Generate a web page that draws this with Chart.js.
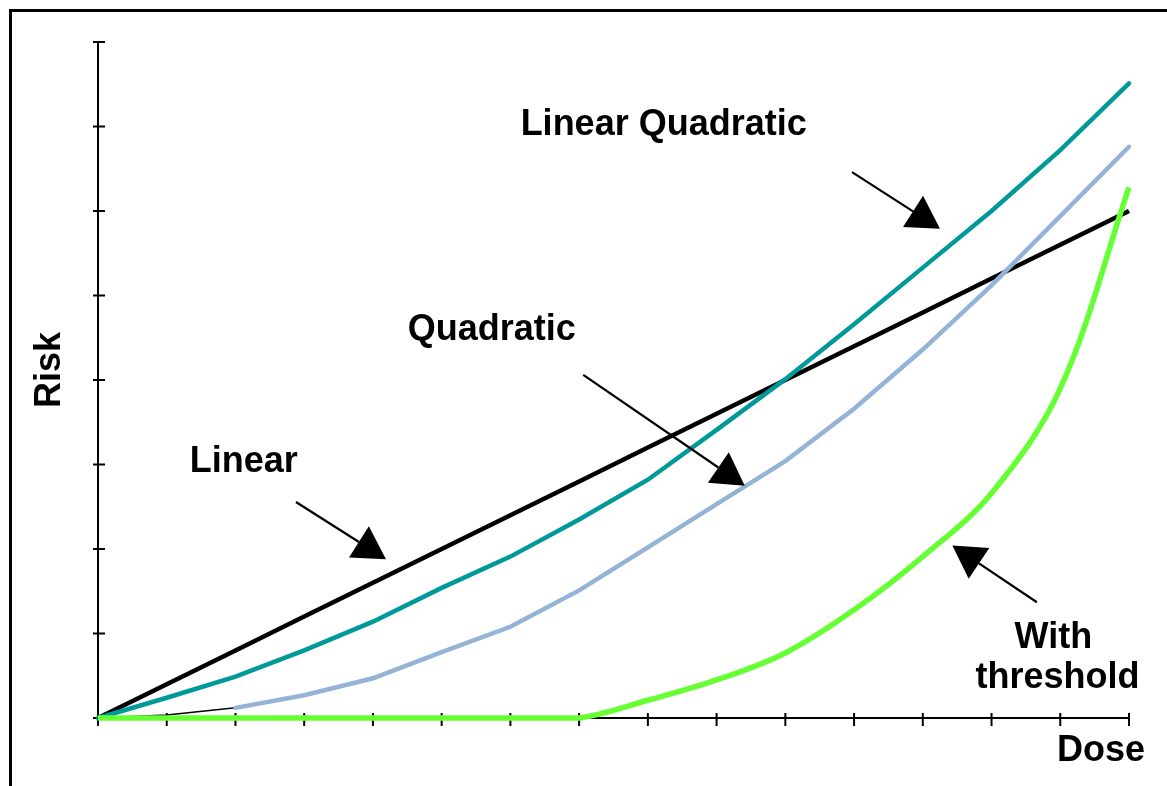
<!DOCTYPE html>
<html>
<head>
<meta charset="utf-8">
<script src="https://cdn.jsdelivr.net/npm/chart.js@4/dist/chart.umd.min.js"></script>
<style>
  html, body { margin: 0; padding: 0; background: #fff; overflow: hidden; }
  #wrap { position: relative; width: 1167px; height: 786px; }
  #frame { position: absolute; left: 9px; top: 9px; width: 1300px; height: 900px;
           border-left: 3px solid #000; border-top: 3px solid #000; }
  #chart { position: absolute; left: 0; top: 0; }
</style>
</head>
<body>
<div id="wrap">
  <div id="frame"></div>
  <canvas id="chart" width="1167" height="786"></canvas>
</div>
<script>
// dose steps along the x axis (16 tick marks)
const doses = [0, 1, 2, 3, 4, 5, 6, 7, 8, 9, 10, 11, 12, 13, 14, 15];
const yTicks = [0, 1, 2, 3, 4, 5, 6, 7, 8];

// risk values
const linear          = [0, 0.4, 0.8, 1.2, 1.6, 2.0, 2.4, 2.8, 3.2, 3.6, 4.0, 4.4, 4.8, 5.2, 5.6, 6.0];
const linearQuadratic = [0, 0.24, 0.49, 0.80, 1.14, 1.54, 1.91, 2.35, 2.82, 3.41, 4.01, 4.66, 5.33, 6.0, 6.72, 7.51];
const quadratic       = [0, 0.035, 0.12, 0.27, 0.47, 0.78, 1.08, 1.51, 2.02, 2.53, 3.04, 3.66, 4.36, 5.12, 5.94, 6.76];
const threshold       = [0, 0, 0, 0, 0, 0, 0, 0, 0.21, 0.45, 0.77, 1.28, 1.91, 2.66, 3.9, 6.28];

// text labels (data coords: x centre, y baseline)
const labels = [
  { text: 'Linear Quadratic', x: 8.23, y: 6.90 },
  { text: 'Quadratic', x: 5.73, y: 4.47 },
  { text: 'Linear', x: 2.12, y: 2.91 },
  { text: 'With', x: 13.90, y: 0.83 },
  { text: 'threshold', x: 13.96, y: 0.355 }
];
// arrows: from -> tip, data coords
const arrows = [
  { x0: 2.88, y0: 2.556, x1: 4.19, y1: 1.88 },
  { x0: 7.06, y0: 4.06, x1: 9.41, y1: 2.75 },
  { x0: 10.97, y0: 6.46, x1: 12.25, y1: 5.79 },
  { x0: 13.66, y0: 1.37, x1: 12.43, y1: 2.04 }
];

const pts = arr => arr.map((v, i) => ({ x: doses[i], y: v }));
const FONT = 'bold 36px "Liberation Sans", Arial, sans-serif';

const tickMarks = {
  id: 'tickMarks',
  beforeDatasetsDraw(chart) {
    const c = chart.ctx, xs = chart.scales.x, ys = chart.scales.y;
    const yb = ys.getPixelForValue(0), xl = xs.getPixelForValue(0);
    c.save();
    c.strokeStyle = '#000';
    c.lineWidth = 2;
    c.beginPath();
    doses.forEach(d => {
      const px = xs.getPixelForValue(d);
      c.moveTo(px, yb - 5); c.lineTo(px, yb + 8);
    });
    yTicks.forEach(t => {
      const py = ys.getPixelForValue(t);
      c.moveTo(xl - 5, py); c.lineTo(xl + 7, py);
    });
    c.stroke();
    c.restore();
  }
};

const annotations = {
  id: 'annotations',
  afterDraw(chart) {
    const c = chart.ctx, xs = chart.scales.x, ys = chart.scales.y;
    c.save();
    c.fillStyle = '#000';
    c.strokeStyle = '#000';
    c.font = FONT;
    c.textAlign = 'center';
    c.textBaseline = 'alphabetic';
    labels.forEach(l => c.fillText(l.text, xs.getPixelForValue(l.x), ys.getPixelForValue(l.y)));

    arrows.forEach(a => {
      const sx = xs.getPixelForValue(a.x0), sy = ys.getPixelForValue(a.y0);
      const tx = xs.getPixelForValue(a.x1), ty = ys.getPixelForValue(a.y1);
      const len = Math.hypot(tx - sx, ty - sy);
      const ux = (tx - sx) / len, uy = (ty - sy) / len;
      const side = 37, h = side * Math.sqrt(3) / 2;
      const bx = tx - ux * h, by = ty - uy * h;
      c.lineWidth = 2.2;
      c.beginPath();
      c.moveTo(sx, sy); c.lineTo(bx, by);
      c.stroke();
      c.beginPath();
      c.moveTo(tx, ty);
      c.lineTo(bx - uy * side / 2, by + ux * side / 2);
      c.lineTo(bx + uy * side / 2, by - ux * side / 2);
      c.closePath();
      c.fill();
    });

    // axis names
    c.textAlign = 'right';
    c.fillText('Dose', 1145, 761);
    c.translate(60, 370);
    c.rotate(-Math.PI / 2);
    c.textAlign = 'center';
    c.fillText('Risk', 0, 0);
    c.restore();
  }
};

new Chart(document.getElementById('chart'), {
  type: 'line',
  data: {
    datasets: [
      {
        label: 'With threshold',
        data: pts(threshold),
        borderColor: '#66FF33',
        borderWidth: 5.5,
        borderCapStyle: 'butt',
        tension: 0.35
      },
      {
        label: 'Quadratic',
        data: pts(quadratic),
        borderColor: '#95B3D7',
        borderWidth: 4.5,
        borderCapStyle: 'round',
        segment: {
          borderColor: s => s.p1DataIndex <= 2 ? '#000' : undefined,
          borderWidth: s => s.p1DataIndex <= 2 ? 1.5 : undefined
        }
      },
      {
        label: 'Linear Quadratic',
        data: pts(linearQuadratic),
        borderColor: '#009999',
        borderWidth: 4.5,
        borderCapStyle: 'round'
      },
      {
        label: 'Linear',
        data: pts(linear),
        borderColor: '#000',
        borderWidth: 4.5
      }
    ]
  },
  options: {
    responsive: false,
    animation: false,
    layout: { padding: { left: 98, right: 38, top: 42, bottom: 68 } },
    elements: { point: { radius: 0 }, line: { tension: 0, fill: false } },
    datasets: { line: { clip: false } },
    plugins: { legend: { display: false }, tooltip: { enabled: false } },
    scales: {
      x: {
        type: 'linear', min: 0, max: 15,
        grid: { display: false, drawTicks: false },
        ticks: { display: false },
        border: { display: true, color: '#000', width: 2 }
      },
      y: {
        type: 'linear', min: 0, max: 8,
        grid: { display: false, drawTicks: false },
        ticks: { display: false },
        border: { display: true, color: '#000', width: 2 }
      }
    }
  },
  plugins: [tickMarks, annotations]
});
</script>
</body>
</html>
